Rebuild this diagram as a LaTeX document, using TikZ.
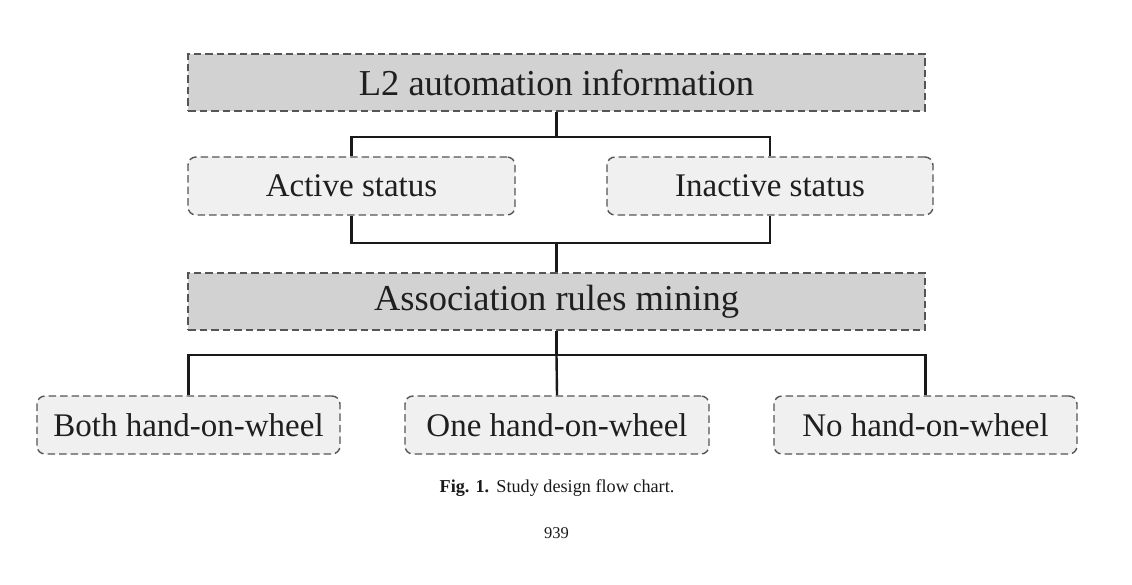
\documentclass[tikz,border=0pt]{standalone}
\usepackage{fontspec}
\setmainfont{Liberation Serif}
\definecolor{hdrfill}{HTML}{D2D2D2}
\definecolor{subfill}{HTML}{F0F0F0}
\definecolor{bordergray}{HTML}{555555}
\begin{document}
\begin{tikzpicture}[x=1pt,y=-1pt,
  hdrbox/.style={draw=bordergray, fill=hdrfill, line width=1.4pt, dash pattern=on 7.5pt off 4pt,
    minimum height=57pt, inner sep=0pt, font=\fontsize{36.5}{40}\selectfont, text=black!88},
  subbox/.style={draw=bordergray, fill=subfill, line width=1.4pt, dash pattern=on 7.5pt off 4pt,
    rounded corners=8pt, minimum height=58pt, inner sep=0pt, font=\fontsize{33}{38}\selectfont, text=black!88},
  conn/.style={line width=2.4pt, black!90}]
\useasboundingbox (0,0) rectangle (1132,585);
\node[hdrbox, minimum width=737pt] (top) at (556.5,82.5) {L2 automation information};
\node[subbox, minimum width=327pt] (act) at (351.5,186) {Active status};
\node[subbox, minimum width=326pt] (inact) at (770,186) {Inactive status};
\node[hdrbox, minimum width=737pt] (assoc) at (556.5,301.5) {Association rules mining};
\node[subbox, minimum width=303pt] (both) at (188.5,425) {Both hand-on-wheel};
\node[subbox, minimum width=304pt] (one) at (557,425) {One hand-on-wheel};
\node[subbox, minimum width=303pt] (none) at (925.5,425) {No hand-on-wheel};
\coordinate (j1) at (556.5,137);
\coordinate (j2) at (556.5,243);
\coordinate (j3) at (556.5,355);
\draw[conn] (top.south) -- (j1);
\draw[conn] (act.north) |- (j1) -| (inact.north);
\draw[conn] (act.south) |- (j2) -| (inact.south);
\draw[conn] (j2) -- (assoc.north);
\draw[conn] (assoc.south) -- (j3);
\draw[conn] (both.north) |- (j3) -| (none.north);
\draw[conn] (j3) -- (one.north);
\node[font=\fontsize{18.2}{21}\selectfont, text=black!90] (cap) at (557,488) {\textbf{Fig. 1.}\hspace{0.4em}Study design flow chart.};
\node[font=\fontsize{16.5}{19}\selectfont, text=black!90] (pg) at (556.5,533) {939};
\end{tikzpicture}
\end{document}
